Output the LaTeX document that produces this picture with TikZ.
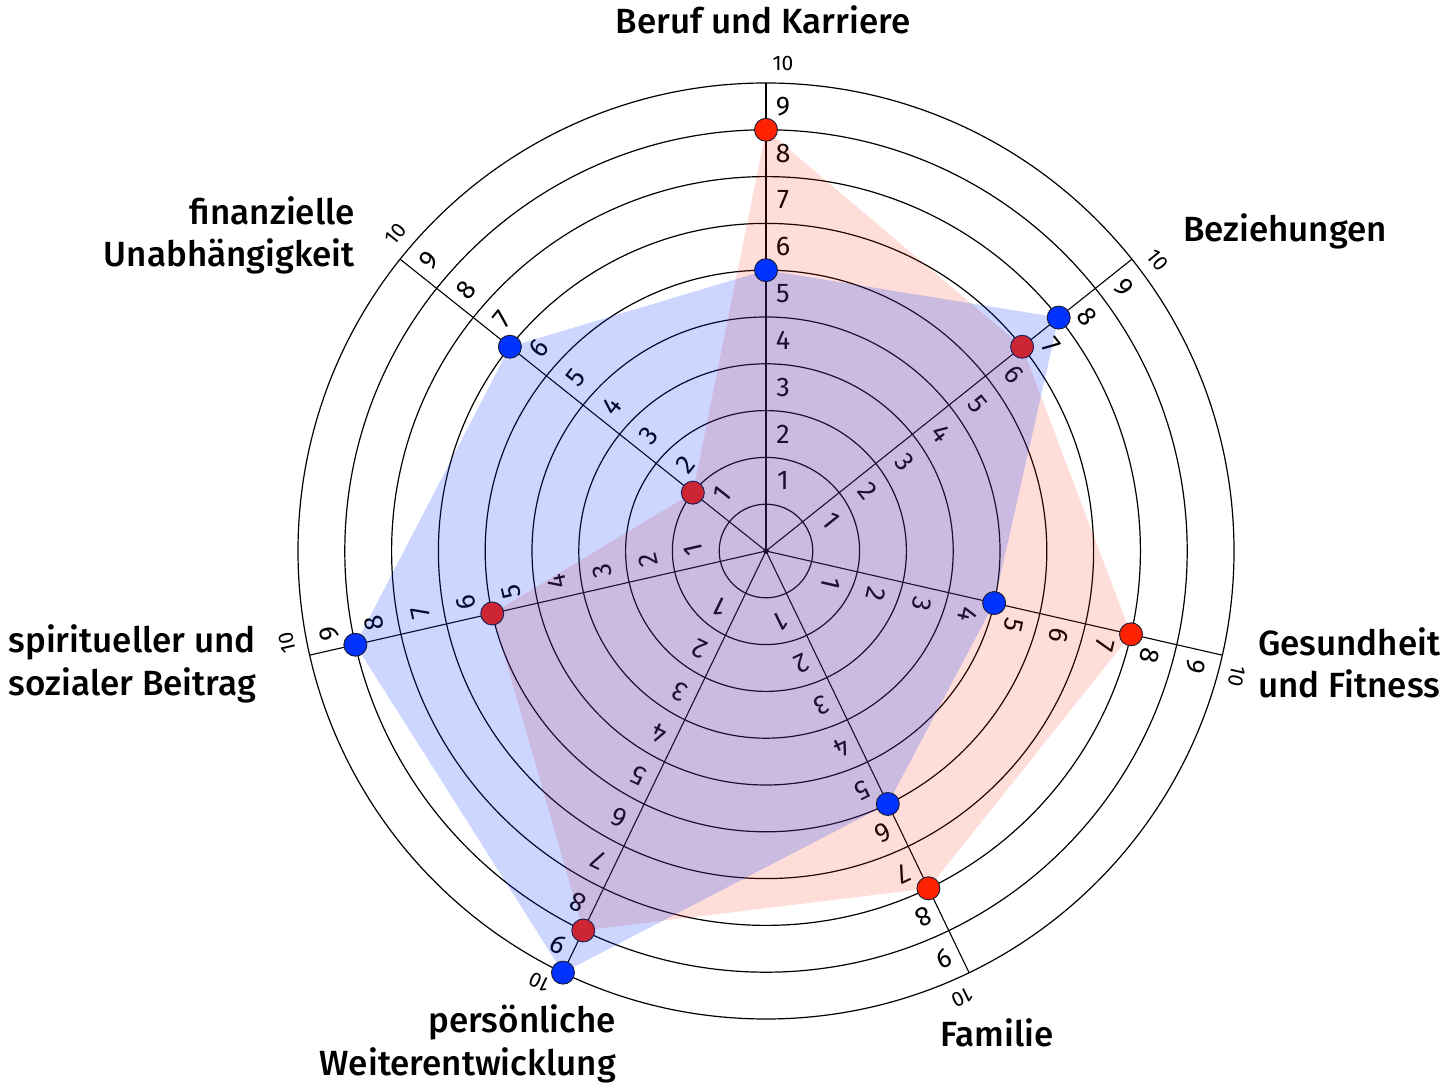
\documentclass[tikz,border=0pt]{standalone}
\usepackage{fontspec}
\setmainfont{Fira Sans}
\newfontfamily\titlefont{Fira Sans Medium}
\usetikzlibrary{calc}
\definecolor{dotred}{HTML}{FF2200}
\definecolor{dotblue}{HTML}{0033FF}
\definecolor{dotrim}{HTML}{1A1A30}

\begin{document}
\begin{tikzpicture}[x=1pt,y=1pt,
  ring/.style={line width=1.2pt, black},
  spoke/.style={line width=1.1pt, black},
  tick/.style={font=\fontsize{27}{27}\selectfont, inner sep=0pt},
  tickten/.style={font=\fontsize{21}{21}\selectfont, inner sep=0pt},
  title/.style={font=\titlefont\fontsize{35}{42}\selectfont, inner sep=0pt},
  reddot/.style={circle, fill=dotred, draw=dotrim, line width=0.9pt, minimum size=23pt, inner sep=0pt},
  bluedot/.style={circle, fill=dotblue, draw=dotrim, line width=0.9pt, minimum size=23pt, inner sep=0pt},
  redarea/.style={fill=dotred, fill opacity=0.15},
  bluearea/.style={fill=dotblue, fill opacity=0.2},
]
\useasboundingbox (0,0) rectangle (1445,1087);
\fill[white] (0,0) rectangle (1445,1087);
\coordinate (C) at (766,536);

% rings of the scale
\foreach \k in {1,...,10} \draw[ring] (C) circle[radius=46.8*\k];

% spokes with their scale numbers
\foreach \a [count=\i] in {90,38.5714,-12.8571,-64.2857,-115.7143,-167.1429,141.4286} {
  \draw[spoke] (C) -- ($(C)+(\a:468)$) coordinate (end\i);
  \begin{scope}[shift={(C)}, rotate=\a-90]
    \foreach \k in {1,...,9}
      \node[tick, rotate=\a-90] (n\i-\k) at (17,{46.8*(\k+0.5)}) {\k};
    \node[tickten, rotate=\a-90] (n\i-10) at (17,487) {10};
  \end{scope}
}
\fill (C) circle[radius=2.8];

% value positions
\foreach \a/\v [count=\i] in {90/9,38.5714/7,-12.8571/8,-64.2857/8,-115.7143/9,-167.1429/6,141.4286/2}
  \coordinate (R\i) at ($(C)+(\a:46.8*\v)$);
\foreach \a/\v [count=\i] in {90/6,38.5714/8,-12.8571/5,-64.2857/6,-115.7143/10,-167.1429/9,141.4286/7}
  \coordinate (B\i) at ($(C)+(\a:46.8*\v)$);

% first profile
\fill[redarea] (R1) -- (R2) -- (R3) -- (R4) -- (R5) -- (R6) -- (R7) -- cycle;
\foreach \i in {1,...,7} \node[reddot] (rd\i) at (R\i) {};

% second profile
\fill[bluearea] (B1) -- (B2) -- (B3) -- (B4) -- (B5) -- (B6) -- (B7) -- cycle;
\foreach \i in {1,...,7} \node[bluedot] (bd\i) at (B\i) {};

% area titles
\node[title, anchor=base] (tBeruf) at (763,1053) {Beruf und Karriere};
\node[title, anchor=base west] (tBez) at (1183,845) {Beziehungen};
\node[title, anchor=base west] (tGes1) at (1258,431) {Gesundheit};
\node[title, anchor=base west] (tGes2) at (1258,389) {und Fitness};
\node[title, anchor=base] (tFam) at (997,41) {Familie};
\node[title, anchor=base east] (tPer1) at (616,55) {persönliche};
\node[title, anchor=base east] (tPer2) at (616,12) {Weiterentwicklung};
\node[title, anchor=base east] (tSp1) at (256,434) {spiritueller und};
\node[title, anchor=base east] (tSp2) at (256,391) {sozialer Beitrag};
\node[title, anchor=base east] (tFin1) at (355,862) {finanzielle};
\node[title, anchor=base east] (tFin2) at (355,820) {Unabhängigkeit};
\end{tikzpicture}
\end{document}
